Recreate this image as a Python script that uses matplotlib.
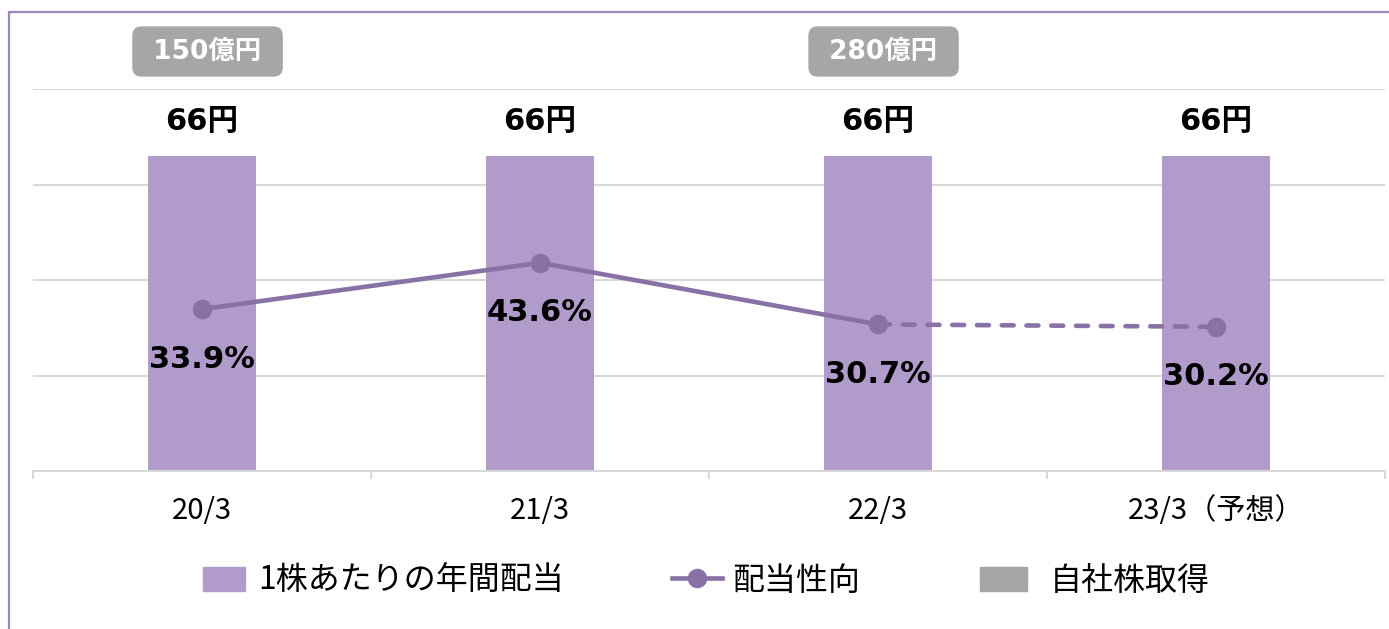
import numpy as np
import matplotlib
matplotlib.use("Agg")
import matplotlib.pyplot as plt
from matplotlib.patches import Rectangle, Patch
from matplotlib.lines import Line2D

plt.rcParams['font.family'] = ['Noto Sans CJK JP', 'DejaVu Sans']

# data
years = ["20/3", "21/3", "22/3", "23/3（予想）"]
dividend = [66, 66, 66, 66]            # 1株あたりの年間配当 (円)
payout = [33.9, 43.6, 30.7, 30.2]      # 配当性向 (%)
buyback = [150, None, 280, None]       # 自社株取得 (億円)

bar_col = "#B19BCB"
line_col = "#8771A5"
grid_col = "#D9D9D9"
box_col = "#A6A6A6"
num_font = ['DejaVu Sans', 'Noto Sans CJK JP']

fig = plt.figure(figsize=(13.89, 6.29), dpi=100)
fig.patch.set_facecolor("white")
# outer frame (only left and top visible)
fig.patches.append(Rectangle((9/1389, -0.1), 1.2, (629-12)/629 + 0.1,
                             transform=fig.transFigure, fill=False,
                             edgecolor="#9B86BD", lw=1.6))

ax = fig.add_axes([33/1389, (629-471)/629, (1385-33)/1389, (471-89)/629])
x = np.arange(len(years))
ax.bar(x, dividend, width=0.32, color=bar_col, zorder=2)
ax.set_xlim(-0.5, 3.5)
ax.set_ylim(0, 80)
ax.set_yticks(np.arange(0, 81, 20))
ax.yaxis.grid(True, color=grid_col, lw=1.5, zorder=0)
ax.tick_params(axis='y', length=0, labelleft=False)
for s in ["top", "right", "left"]:
    ax.spines[s].set_visible(False)
ax.spines["bottom"].set_color(grid_col)
ax.spines["bottom"].set_linewidth(1.5)
ax.set_xticks(x)
ax.set_xticklabels(years, fontsize=21)
ax.tick_params(axis='x', which='major', length=0, pad=18)
ax.set_xticks(np.arange(-0.5, 4, 1), minor=True)
ax.tick_params(axis='x', which='minor', length=6, width=1.5, color=grid_col)

for i, v in enumerate(dividend):
    ax.annotate(f"{v}円", (i, v), xytext=(0, 25), textcoords="offset points",
                ha="center", va="center", fontsize=22, fontweight="bold",
                family=num_font)

for i, b in enumerate(buyback):
    if b is None:
        continue
    ax.annotate(f" {b}億円 ", (i, 80), xytext=(4, 27), textcoords="offset points",
                ha="center", va="center", fontsize=19, fontweight="bold",
                color="white", family=num_font, annotation_clip=False,
                bbox=dict(boxstyle="round,pad=0.46,rounding_size=0.35",
                          fc=box_col, ec="none"))

ax2 = ax.twinx()
ax2.set_ylim(0, 80)
ax2.axis("off")
ax2.plot(x[:3], payout[:3], color=line_col, lw=3.3, solid_capstyle="round", zorder=3)
ax2.plot(x[2:], payout[2:], color=line_col, lw=3.3, dashes=(2.6, 2.8),
         dash_capstyle="round", zorder=3)
ax2.plot(x, payout, "o", color=line_col, ms=13, zorder=4)
for i, p in enumerate(payout):
    ax2.annotate(f"{p}%", (i, p), xytext=(0, -36), textcoords="offset points",
                 ha="center", va="center", fontsize=22, fontweight="bold",
                 family=num_font)

# legend (three separate entries)
ly = (629 - 581) / 629
leg_kw = dict(loc="center left", frameon=False, fontsize=23, borderpad=0,
              borderaxespad=0, handleheight=0.78)
l1 = fig.legend(handles=[Patch(color=bar_col, label="1株あたりの年間配当")],
                bbox_to_anchor=(203/1389, ly), handlelength=1.32,
                handletextpad=0.4, **leg_kw)
l2 = fig.legend(handles=[Line2D([], [], color=line_col, lw=3.3, marker="o", ms=13,
                                label="配当性向")],
                bbox_to_anchor=(672/1389, ly), handlelength=1.57,
                handletextpad=0.32, **leg_kw)
l3 = fig.legend(handles=[Patch(color=box_col, label="自社株取得")],
                bbox_to_anchor=(980/1389, ly), handlelength=1.47,
                handletextpad=0.72, **leg_kw)

fig.savefig("out.png", dpi=100)
